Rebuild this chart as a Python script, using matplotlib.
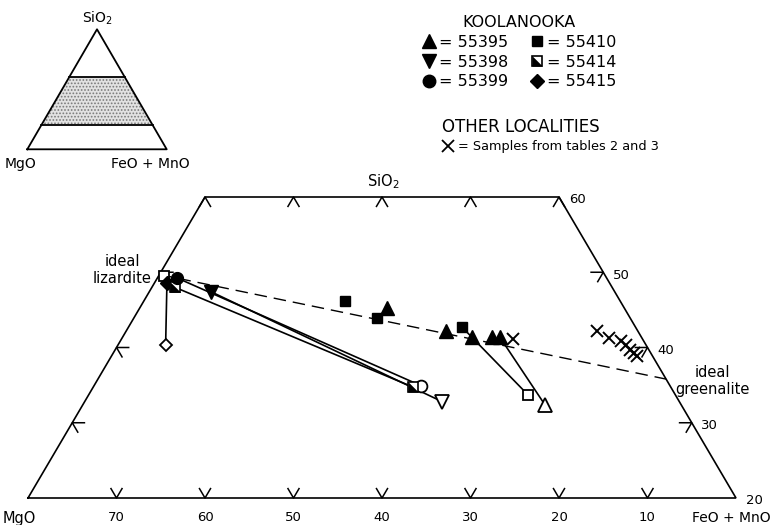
import matplotlib
matplotlib.use('Agg')
import matplotlib.pyplot as plt
from matplotlib.lines import Line2D
from matplotlib.path import Path
import numpy as np

plt.rcParams['font.family'] = ['DejaVu Sans']
plt.rcParams['hatch.color'] = '#8a8a8a'
plt.rcParams['hatch.linewidth'] = 0.8

# ---------------- data (wt %) : SiO2 and FeO+MnO, MgO = remainder ----------------
# Koolanooka samples, filled symbols (one phase)
f55395_sio2 = [45.25, 42.2, 41.4, 41.4, 41.4]
f55395_femn = [27.9, 36.1, 39.5, 41.7, 42.6]
f55398_sio2 = [47.4]
f55398_femn = [7.0]
f55399_sio2 = [49.25]
f55399_femn = [2.2]
f55410_sio2 = [46.2, 43.9, 42.7]
f55410_femn = [22.7, 27.5, 37.7]
f55414_sio2 = [48.0]
f55414_femn = [2.6]
f55415_sio2 = [48.6]
f55415_femn = [1.4]
# open symbols (other phase)
o55395_sio2 = [32.4]
o55395_femn = [52.2]
o55398_sio2 = [32.8]
o55398_femn = [40.4]
o55399_sio2 = [34.9]
o55399_femn = [37.0]
o55410_sio2 = [49.5, 33.7]
o55410_femn = [0.6, 49.65]
o55414_sio2 = [34.75]
o55414_femn = [36.1]
o55415_sio2 = [40.3]
o55415_femn = [5.4]
# other localities (tables 2 and 3)
other_sio2 = [41.1, 42.2, 41.3, 40.9, 40.3, 39.7, 39.3, 38.9]
other_femn = [44.2, 53.2, 55.0, 56.6, 57.4, 58.2, 58.8, 59.4]
# ideal end members
lizardite = (49.7, 0.0)
greenalite = (35.8, 64.2)
# axis ticks
bottom_tick_femn = [10, 20, 30, 40, 50, 60, 70]
top_tick_femn = [0, 10, 20, 30, 40]
side_tick_sio2 = [20, 30, 40, 50, 60]


def tern(s, f):
    s = np.asarray(s, float)
    f = np.asarray(f, float)
    return f + s / 2.0, s


W, H = 775, 525
fig = plt.figure(figsize=(W / 100, H / 100), dpi=100)

# pixel calibration of the diagram
PX0, PXU = 28.0, 8.85      # x pixel of X=10, pixels per unit
PY0, PYU = 498.0, 7.525    # y pixel of SiO2=20, pixels per unit
ax = fig.add_axes([0, 0, 1, 1])
ax.set_xlim(10 - PX0 / PXU, 10 + (W - PX0) / PXU)
ax.set_ylim(20 - (H - PY0) / PYU, 20 + PY0 / PYU)
ax.axis('off')

LW = 1.2
# outline of the truncated triangle
ox, oy = tern([20, 20, 60, 60, 20], [0, 80, 40, 0, 0])
ax.plot(ox, oy, color='k', lw=LW, solid_joinstyle='miter', zorder=2)

d = 1.25
TLW = 1.1
for f in bottom_tick_femn:
    x0, y0 = tern(20, f)
    ax.plot([x0 - 0.5 * d, x0, x0 + 0.5 * d], [y0 + d, y0, y0 + d], color='k', lw=TLW)
for f in top_tick_femn:
    x0, y0 = tern(60, f)
    ax.plot([x0 - 0.5 * d, x0, x0 + 0.5 * d], [y0 - d, y0, y0 - d], color='k', lw=TLW)
for s in side_tick_sio2[1:-1]:
    x0, y0 = tern(s, 100 - s)
    ax.plot([x0 - d * 1.1, x0, x0 - 0.5 * d], [y0, y0, y0 - d], color='k', lw=TLW)
    x0, y0 = tern(s, 0)
    ax.plot([x0 + d * 1.1, x0, x0 + 0.5 * d], [y0, y0, y0 - d], color='k', lw=TLW)

# tick labels
tf = 9.5
for f in bottom_tick_femn:
    x0, y0 = tern(20, f)
    ax.annotate(f'{80 - f}', (x0, y0), xytext=(0, -14), textcoords='offset points',
                ha='center', va='center', fontsize=tf)
for s in side_tick_sio2:
    x0, y0 = tern(s, 100 - s)
    ax.annotate(f'{s}', (x0, y0), xytext=(13, -2), textcoords='offset points',
                ha='center', va='center', fontsize=tf)

# ideal lizardite - greenalite join
lx, ly = tern(*lizardite)
gx, gy = tern(*greenalite)
ax.plot([lx, gx], [ly, gy], color='k', lw=1.0, ls=(0, (9, 5)), zorder=2)

# tie lines (filled -> open)
ties = [
    (f55395_sio2[4], f55395_femn[4], o55395_sio2[0], o55395_femn[0]),
    (f55398_sio2[0], f55398_femn[0], o55398_sio2[0], o55398_femn[0]),
    (f55399_sio2[0], f55399_femn[0], o55399_sio2[0], o55399_femn[0]),
    (f55410_sio2[2], f55410_femn[2], o55410_sio2[1], o55410_femn[1]),
    (f55414_sio2[0], f55414_femn[0], o55414_sio2[0], o55414_femn[0]),
    (f55415_sio2[0], f55415_femn[0], o55415_sio2[0], o55415_femn[0]),
]
for s1, f1, s2, f2 in ties:
    x1, y1 = tern(s1, f1)
    x2, y2 = tern(s2, f2)
    ax.plot([x1, x2], [y1, y2], color='k', lw=LW, zorder=3)

half_path = Path([(-1, -1), (1, -1), (-1, 1), (-1, -1)],
                 [Path.MOVETO, Path.LINETO, Path.LINETO, Path.CLOSEPOLY])


def pts(s, f, **kw):
    x, y = tern(s, f)
    ax.plot(x, y, ls='none', zorder=5, **kw)


def half_sq(s, f, ms):
    pts(s, f, marker='s', ms=ms, mfc='white', mec='k', mew=1.2)
    pts(s, f, marker=half_path, ms=ms, mfc='k', mec='k', mew=0.3)


MS_T = 10
# open symbols
pts(o55395_sio2, o55395_femn, marker='^', ms=MS_T, mfc='white', mec='k', mew=1.3)
pts(o55398_sio2, o55398_femn, marker='v', ms=MS_T, mfc='white', mec='k', mew=1.3)
pts(o55399_sio2, o55399_femn, marker='o', ms=8.5, mfc='white', mec='k', mew=1.3)
pts(o55410_sio2, o55410_femn, marker='s', ms=7, mfc='white', mec='k', mew=1.3)
half_sq(o55414_sio2, o55414_femn, 7)
pts(o55415_sio2, o55415_femn, marker='D', ms=6.5, mfc='white', mec='k', mew=1.3)
# filled symbols
pts(f55395_sio2, f55395_femn, marker='^', ms=MS_T, mfc='k', mec='k')
pts(f55398_sio2, f55398_femn, marker='v', ms=MS_T, mfc='k', mec='k')
pts(f55410_sio2, f55410_femn, marker='s', ms=7, mfc='k', mec='k')
pts(f55415_sio2, f55415_femn, marker='D', ms=7, mfc='k', mec='k')
half_sq(f55414_sio2, f55414_femn, 7.5)
pts(f55399_sio2, f55399_femn, marker='o', ms=8.5, mfc='k', mec='k')
# other localities
pts(other_sio2, other_femn, marker='x', ms=8, mec='k', mew=1.4)


def ftext(px, py, s, **kw):
    fig.text(px / W, 1 - py / H, s, **kw)


ftext(383, 182, 'SiO$_2$', ha='center', va='center', fontsize=10.5)
ftext(19, 518, 'MgO', ha='center', va='center', fontsize=10.5)
ftext(771, 518, 'FeO + MnO', ha='right', va='center', fontsize=10)
ftext(122, 270, 'ideal\nlizardite', ha='center', va='center', fontsize=10.5, linespacing=1.1)
ftext(712, 381, 'ideal\ngreenalite', ha='center', va='center', fontsize=10.5, linespacing=1.1)

# legend: Koolanooka
h_t = Line2D([], [], ls='none', marker='^', ms=10, mfc='k', mec='k')
h_v = Line2D([], [], ls='none', marker='v', ms=10, mfc='k', mec='k')
h_o = Line2D([], [], ls='none', marker='o', ms=9, mfc='k', mec='k')
h_s = Line2D([], [], ls='none', marker='s', ms=7, mfc='k', mec='k')
h_h = (Line2D([], [], ls='none', marker='s', ms=7, mfc='white', mec='k', mew=1.2),
       Line2D([], [], ls='none', marker=half_path, ms=7, mfc='k', mec='k', mew=0.3))
h_d = Line2D([], [], ls='none', marker='D', ms=7, mfc='k', mec='k')
leg1 = ax.legend([h_t, h_v, h_o, h_s, h_h, h_d],
                 ['= 55395', '= 55398', '= 55399', '= 55410', '= 55414', '= 55415'],
                 ncol=2, title='KOOLANOOKA', frameon=False, fontsize=11.5,
                 title_fontsize=11.5, handlelength=0.9, handletextpad=0.2,
                 columnspacing=1.3, labelspacing=0.3, borderpad=0,
                 loc='upper center', bbox_to_anchor=(519 / W, 1 - 7 / H),
                 bbox_transform=fig.transFigure)
ax.add_artist(leg1)
h_x = Line2D([], [], ls='none', marker='x', ms=8, mec='k', mew=1.3)
leg2 = ax.legend([h_x], ['= Samples from tables 2 and 3'], title='OTHER LOCALITIES',
                 frameon=False, fontsize=9.3, title_fontsize=12, handlelength=0.9,
                 handletextpad=0.3, borderpad=0, alignment='left', labelspacing=0.3,
                 loc='upper left', bbox_to_anchor=(436 / W, 1 - 112 / H),
                 bbox_transform=fig.transFigure)

# ---------------- inset triangle ----------------
ax2 = fig.add_axes([27.3 / W, 1 - 149.3 / H, 139.4 / W, 120 / H])
ax2.set_xlim(0, 100)
ax2.set_ylim(0, 100)
ax2.axis('off')
bx, by = tern([20, 20, 60, 60, 20], [0, 80, 40, 0, 0])
ax2.fill(bx, by, facecolor='#e2e2e2', edgecolor='#7a7a7a', linewidth=0,
         hatch='.....', zorder=1)
tx, ty = tern([0, 0, 100, 0], [0, 100, 0, 0])
ax2.plot(tx, ty, color='k', lw=1.3, clip_on=False, zorder=3)
for s in [20, 60]:
    lx2, ly2 = tern([s, s], [0, 100 - s])
    ax2.plot(lx2, ly2, color='k', lw=1.3, zorder=3)
ftext(97, 18, 'SiO$_2$', ha='center', va='center', fontsize=10)
ftext(21, 164, 'MgO', ha='center', va='center', fontsize=10)
ftext(150, 164, 'FeO + MnO', ha='center', va='center', fontsize=10)

fig.savefig('out.png', dpi=100)
